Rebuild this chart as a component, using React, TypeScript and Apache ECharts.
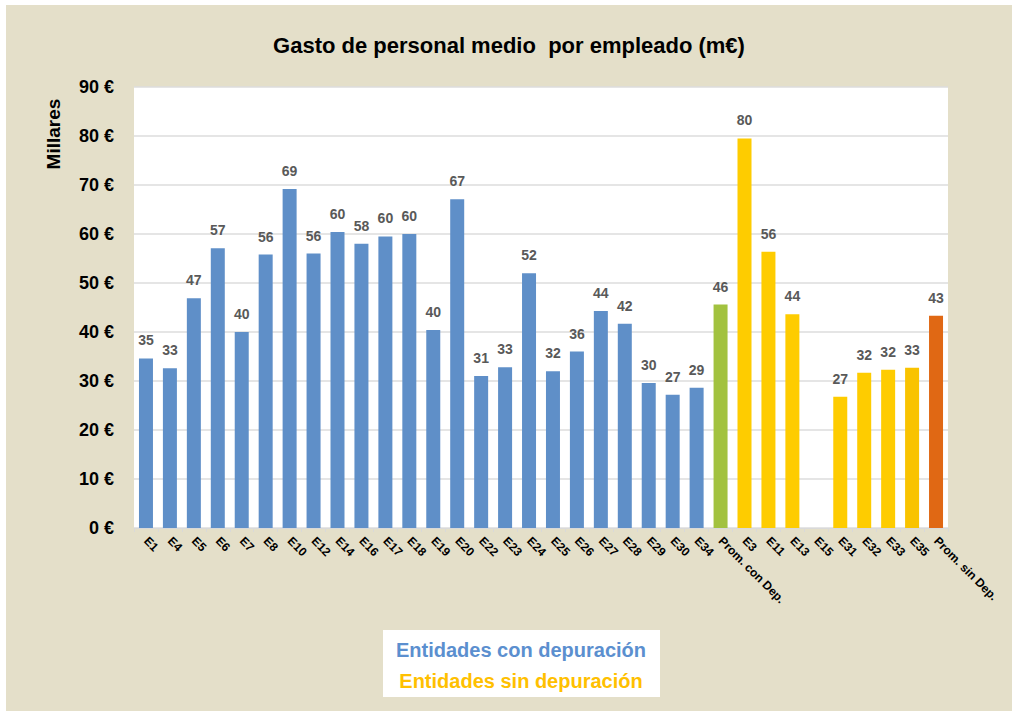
import React, { useEffect, useRef } from "react";
import * as echarts from "echarts";

const categories = [
  "E1", "E4", "E5", "E6", "E7", "E8", "E10", "E12", "E14", "E16", "E17", "E18",
  "E19", "E20", "E22", "E23", "E24", "E25", "E26", "E27", "E28", "E29", "E30", "E34",
  "Prom. con Dep.", "E3", "E11", "E13", "E15", "E31", "E32", "E33", "E35", "Prom. sin Dep.",
];

const values: (number | null)[] = [
  34.6, 32.6, 46.9, 57.1, 40.0, 55.8, 69.2, 56.0, 60.4, 58.0, 59.5, 60.0,
  40.4, 67.1, 31.0, 32.8, 52.0, 32.0, 36.0, 44.3, 41.7, 29.6, 27.2, 28.6,
  45.6, 79.5, 56.4, 43.6, null, 26.8, 31.7, 32.3, 32.7, 43.3,
];

// group of each category: con = with depuración, sin = without, promCon / promSin = averages
const groups = [
  "con", "con", "con", "con", "con", "con", "con", "con", "con", "con", "con", "con",
  "con", "con", "con", "con", "con", "con", "con", "con", "con", "con", "con", "con",
  "promCon", "sin", "sin", "sin", "sin", "sin", "sin", "sin", "sin35", "promSin",
];

const yTicks = { min: 0, max: 90, interval: 10 };

const titleText = "Gasto de personal medio  por empleado (m€)";
const yName = "Millares";
const legendLines = ["Entidades con depuración", "Entidades sin depuración"];

const groupColors: Record<string, string> = {
  con: "#5F8FC8",
  promCon: "#A2C23F",
  sin: "#FECC00",
  sin35: "#F9C300",
  promSin: "#E06814",
};

export default function App() {
  const ref = useRef<HTMLDivElement>(null);

  useEffect(() => {
    if (!ref.current) return;
    const chart = echarts.init(ref.current, null, { renderer: "svg" });
    const font = "'Liberation Sans', Arial, sans-serif";
    chart.setOption({
      animation: false,
      backgroundColor: "#E4DFC9",
      textStyle: { fontFamily: font },
      title: {
        text: titleText,
        left: "center",
        top: 24,
        textStyle: { fontSize: 22, fontWeight: "bold", color: "#000", fontFamily: font },
      },
      grid: {
        left: 128,
        top: 82,
        right: 64,
        bottom: 183,
        show: true,
        backgroundColor: "#FFFFFF",
        borderWidth: 0,
      },
      xAxis: {
        type: "category",
        data: categories,
        axisLine: { show: true, lineStyle: { color: "#D9D9D9", width: 1 } },
        axisTick: { show: true, length: 4, lineStyle: { color: "#D9D9D9" } },
        axisLabel: {
          interval: 0,
          rotate: -45,
          margin: 11,
          fontSize: 12,
          fontWeight: "bold",
          color: "#000",
          fontFamily: font,
        },
      },
      yAxis: {
        type: "value",
        min: yTicks.min,
        max: yTicks.max,
        interval: yTicks.interval,
        axisLine: { show: false },
        axisTick: { show: false },
        axisLabel: {
          formatter: "{value} €",
          fontSize: 18,
          fontWeight: "bold",
          color: "#000",
          margin: 20,
          fontFamily: font,
        },
        splitLine: { lineStyle: { color: "#DCDCDC", width: 1.5 } },
      },
      series: [
        {
          type: "bar",
          barWidth: 14,
          data: values.map((v, i) => ({
            value: v,
            itemStyle: { color: groupColors[groups[i]] },
          })),
          label: {
            show: true,
            position: "top",
            distance: 11,
            fontSize: 14,
            fontWeight: "bold",
            color: "#595959",
            fontFamily: font,
            formatter: (p: any) => (p.value == null ? "" : String(Math.round(p.value))),
          },
        },
      ],
      graphic: [
        {
          type: "text",
          x: 47,
          y: 129,
          rotation: Math.PI / 2,
          style: {
            text: yName,
            font: `bold 19px ${font}`,
            fill: "#000",
            align: "center",
            verticalAlign: "middle",
          },
        },
        {
          type: "rect",
          shape: { x: 377, y: 625, width: 277, height: 67 },
          style: { fill: "#FFFFFF" },
        },
        {
          type: "text",
          x: 515,
          y: 645,
          style: {
            text: legendLines[0],
            font: `bold 20px ${font}`,
            fill: "#5B8FCF",
            align: "center",
            verticalAlign: "middle",
          },
        },
        {
          type: "text",
          x: 515,
          y: 676,
          style: {
            text: legendLines[1],
            font: `bold 20px ${font}`,
            fill: "#FFC000",
            align: "center",
            verticalAlign: "middle",
          },
        },
      ],
    });
    return () => chart.dispose();
  }, []);

  return (
    <div style={{ position: "fixed", left: 0, top: 0, width: 1012, height: 711, background: "#FFFFFF" }}>
      <div
        ref={ref}
        style={{ position: "absolute", left: 6, top: 5, width: 1006, height: 706 }}
      />
    </div>
  );
}
